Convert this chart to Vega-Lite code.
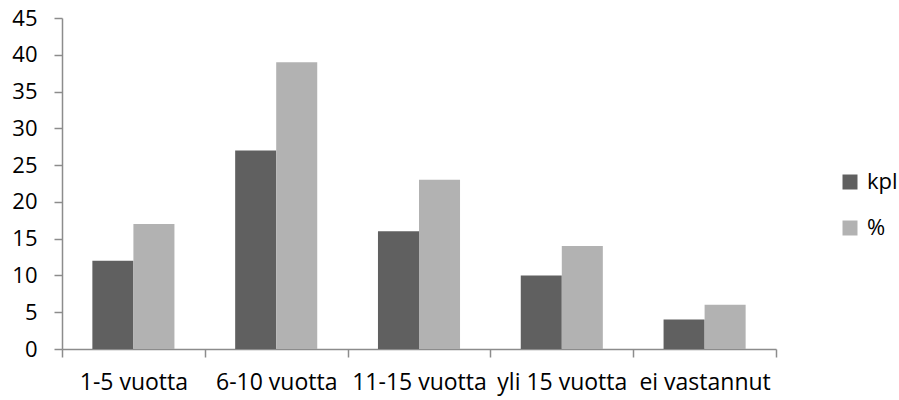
{
  "$schema": "https://vega.github.io/schema/vega-lite/v6.json",
  "autosize": "none",
  "width": 714,
  "height": 331,
  "padding": {"left": 62, "top": 18, "right": 123, "bottom": 51},
  "background": "white",
  "data": {
    "values": [
      {"luokka": "1-5 vuotta", "sarja": "kpl", "arvo": 12},
      {"luokka": "1-5 vuotta", "sarja": "%", "arvo": 17},
      {"luokka": "6-10 vuotta", "sarja": "kpl", "arvo": 27},
      {"luokka": "6-10 vuotta", "sarja": "%", "arvo": 39},
      {"luokka": "11-15 vuotta", "sarja": "kpl", "arvo": 16},
      {"luokka": "11-15 vuotta", "sarja": "%", "arvo": 23},
      {"luokka": "yli 15 vuotta", "sarja": "kpl", "arvo": 10},
      {"luokka": "yli 15 vuotta", "sarja": "%", "arvo": 14},
      {"luokka": "ei vastannut", "sarja": "kpl", "arvo": 4},
      {"luokka": "ei vastannut", "sarja": "%", "arvo": 6}
    ]
  },
  "config": {
    "view": {"stroke": null},
    "font": "Open Sans",
    "axis": {
      "labelFont": "Open Sans",
      "labelFontSize": 22,
      "labelColor": "#000000",
      "domainColor": "#8c8c8c",
      "domainWidth": 1.5,
      "tickColor": "#8c8c8c",
      "tickWidth": 1.5,
      "tickSize": 8,
      "grid": false,
      "title": null
    }
  },
  "mark": {"type": "bar"},
  "encoding": {
    "x": {
      "field": "luokka",
      "type": "nominal",
      "sort": ["1-5 vuotta", "6-10 vuotta", "11-15 vuotta", "yli 15 vuotta", "ei vastannut"],
      "scale": {"paddingInner": 0, "paddingOuter": 0},
      "axis": {"labelAngle": 0, "tickBand": "extent", "labelPadding": 14, "labelFontSize": 23, "labelOverlap": false}
    },
    "xOffset": {
      "field": "sarja",
      "type": "nominal",
      "sort": ["kpl", "%"],
      "scale": {"paddingInner": 0, "paddingOuter": 0.74}
    },
    "y": {
      "field": "arvo",
      "type": "quantitative",
      "scale": {"domain": [0, 45], "nice": false},
      "axis": {"values": [0, 5, 10, 15, 20, 25, 30, 35, 40, 45], "labelPadding": 17}
    },
    "color": {
      "field": "sarja",
      "type": "nominal",
      "sort": ["kpl", "%"],
      "scale": {"domain": ["kpl", "%"], "range": ["#606060", "#b2b2b2"]},
      "legend": {
        "title": null,
        "orient": "none",
        "legendX": 777,
        "legendY": 153,
        "symbolType": "square",
        "symbolSize": 225,
        "symbolStrokeWidth": 0,
        "symbolOpacity": 1,
        "labelFont": "Open Sans",
        "labelFontSize": 22,
        "labelColor": "#000000",
        "rowPadding": 24,
        "labelOffset": 6
      }
    }
  }
}
